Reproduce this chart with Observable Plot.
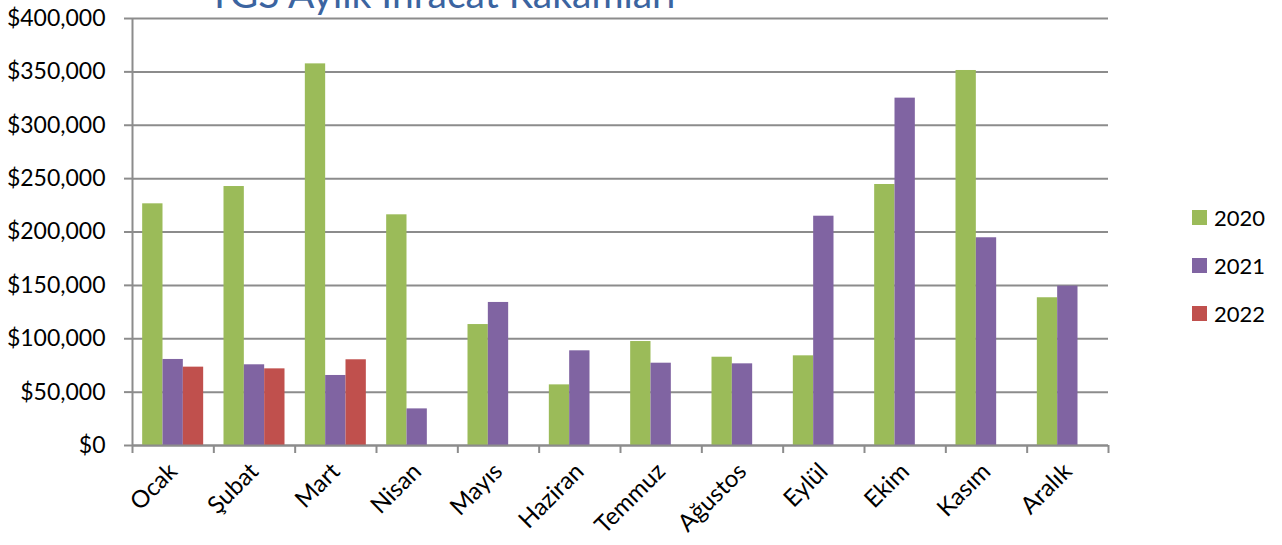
<!DOCTYPE html>
<html><head><meta charset="utf-8">
<script src="https://cdn.jsdelivr.net/npm/d3@7"></script>
<script src="https://cdn.jsdelivr.net/npm/@observablehq/plot@0.6"></script>
<style>
html,body{margin:0;padding:0;background:#fff;overflow:hidden}
#wrap{position:relative;width:1282px;height:545px;font-family:Lato,"Open Sans",sans-serif}
#title{position:absolute;left:208px;top:-29px;font-size:39px;line-height:44px;color:#3b64a0;white-space:nowrap}
#legend{position:absolute;left:1192px;top:0;font-size:22px;color:#000}
.item{position:absolute;left:0;display:flex;align-items:center;white-space:nowrap}
.sw{width:15px;height:15px;margin-right:7px}
</style></head>
<body><div id="wrap"><div id="chart"></div><div id="title">TGS Aylık İhracat Rakamları</div><div id="legend"></div></div>
<script>
const months = ["Ocak","Şubat","Mart","Nisan","Mayıs","Haziran","Temmuz","Ağustos","Eylül","Ekim","Kasım","Aralık"];
const years = ["2020","2021","2022"];
const v2020 = [226400, 242600, 357500, 216100, 113300, 56800, 97400, 82700, 84000, 244500, 351300, 138400];
const v2021 = [80600, 75600, 65600, 34300, 134000, 88700, 77100, 76500, 214800, 325400, 194600, 149300];
const v2022 = [73400, 71800, 80300];
const colors = ["#9BBB59","#8064A2","#C0504D"];
const yTicks = d3.range(0, 400001, 50000);

const series = [v2020, v2021, v2022];
const rows = [];
series.forEach((vals, si) => vals.forEach((v, mi) => rows.push({month: months[mi], mi, si, year: years[si], value: v})));
const nSlots = years.length + 1;
const barW = 1 / nSlots;
const gridColor = "#8c8c8c";

const plot = Plot.plot({
  width: 1282, height: 545,
  marginLeft: 132, marginRight: 174, marginTop: 18, marginBottom: 100,
  style: {fontFamily: "Lato, 'Open Sans', sans-serif", fontSize: "23px", color: "#000", background: "#fff"},
  x: {domain: [0, months.length]},
  y: {domain: [0, 400000]},
  color: {domain: years, range: colors},
  marks: [
    Plot.gridY(yTicks, {stroke: gridColor, strokeOpacity: 1, strokeWidth: 2}),
    Plot.axisY(yTicks, {tickSize: 8, tickPadding: 19, tickFormat: d3.format("$,"), stroke: gridColor, strokeWidth: 2, fill: "#000", fontSize: 23, label: null}),
    Plot.rectY(rows, {
      x1: d => d.mi + barW / 2 + d.si * barW,
      x2: d => d.mi + barW / 2 + (d.si + 1) * barW,
      y: "value", fill: "year"
    }),
    Plot.ruleY([0], {stroke: gridColor, strokeWidth: 2}),
    Plot.ruleX([0], {stroke: gridColor, strokeWidth: 2}),
    Plot.axisX(d3.range(months.length + 1), {tickSize: 8, tickFormat: () => "", stroke: gridColor, strokeWidth: 2, label: null}),
    Plot.axisX(d3.range(months.length).map(i => i + 0.5), {tickSize: 0, tickRotate: -45, tickPadding: 22, tickFormat: i => months[Math.floor(i)], fill: "#000", fontSize: 24, label: null})
  ]
});
document.getElementById("chart").appendChild(plot);

const legend = document.getElementById("legend");
const legendY = [217, 265, 313];
years.forEach((y, i) => {
  const it = document.createElement("div");
  it.className = "item";
  it.style.top = (legendY[i] - 13) + "px";
  it.style.height = "26px";
  it.innerHTML = `<span class="sw" style="background:${colors[i]}"></span><span>${y}</span>`;
  legend.appendChild(it);
});
</script>
</body></html>
